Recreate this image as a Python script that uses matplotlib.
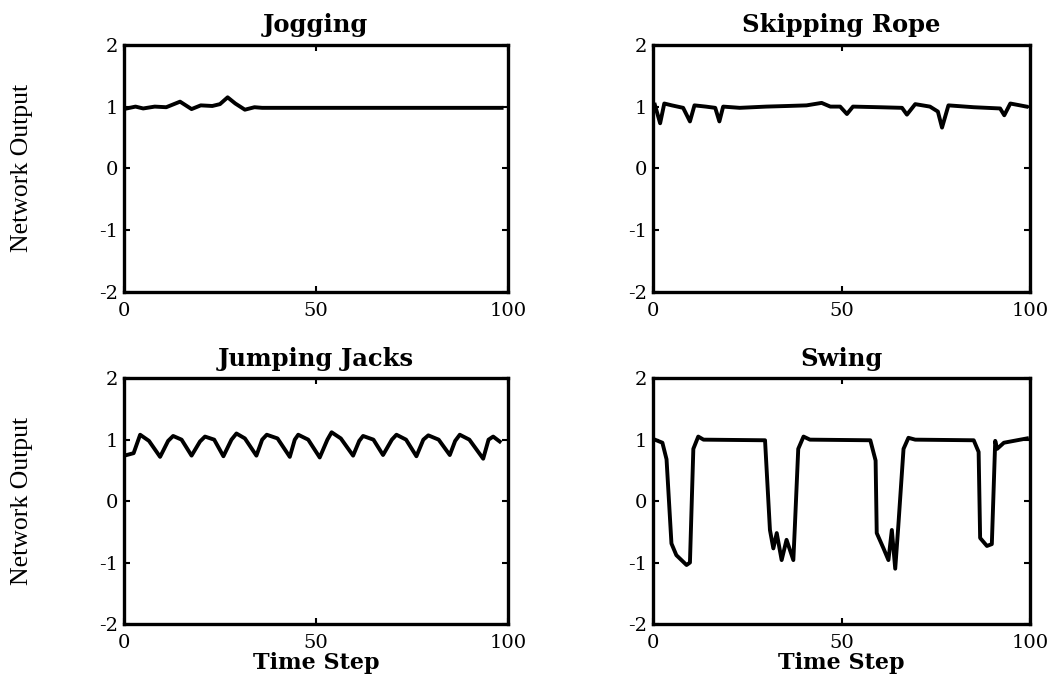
import numpy as np
import matplotlib.pyplot as plt

plt.rcParams['font.family'] = ['DejaVu Serif']
plt.rcParams['axes.unicode_minus'] = False

# Jogging
jog_x = [0.7, 3, 5, 8, 11, 14.6, 17.6, 20, 23, 25, 27, 29, 31.5, 34, 36, 98.4]
jog_y = [0.97, 1.0, 0.97, 1.0, 0.99, 1.08, 0.96, 1.02, 1.01, 1.04, 1.15, 1.05, 0.95, 0.99, 0.98, 0.98]

# Skipping Rope
skip_x = [0.5, 1.9, 3, 5, 8, 9.8, 11, 14, 16.5, 17.6, 18.6, 23, 30, 35.6, 40.7, 44.7, 47, 49.6,
          51.4, 53, 60, 66, 67.3, 69.5, 73.4, 75.5, 76.6, 78.3, 85, 92, 93.1, 94.7, 99]
skip_y = [1.03, 0.73, 1.05, 1.02, 0.98, 0.76, 1.02, 1.0, 0.98, 0.76, 1.0, 0.98, 1.0, 1.01, 1.02, 1.06, 1.0, 1.0,
          0.88, 1.0, 0.99, 0.98, 0.87, 1.04, 1.0, 0.92, 0.66, 1.02, 0.99, 0.97, 0.86, 1.05, 1.0]

# Jumping Jacks
jj_x = [0.7, 2.5, 4.2, 6.5, 9.4, 11.5, 12.8, 15, 17.6, 19.8, 21.1, 23.5, 25.9, 28, 29.3, 31.5, 34.5,
        36, 37.2, 40, 43.2, 44.5, 45.4, 48, 51, 53, 54.1, 56.5, 59.7, 61.3, 62.3, 65, 67.5,
        69.8, 71, 73.5, 76.2, 78, 79.3, 82, 84.9, 86.3, 87.5, 90, 93.6, 95, 96.2, 97.9]
jj_y = [0.75, 0.78, 1.08, 0.98, 0.72, 0.98, 1.06, 1.0, 0.74, 0.97, 1.05, 1.0, 0.73, 1.0, 1.1, 1.02, 0.74,
        1.0, 1.08, 1.02, 0.72, 1.0, 1.08, 1.0, 0.71, 1.0, 1.12, 1.02, 0.74, 0.98, 1.06, 1.0, 0.75,
        1.0, 1.08, 1.0, 0.73, 1.0, 1.07, 1.0, 0.75, 0.98, 1.08, 1.0, 0.69, 1.0, 1.05, 0.97]

# Swing
sw_x = [0.5, 2.5, 3.6, 4.9, 6.2, 8.9, 9.8, 10.7, 12.0, 13.4, 29.7, 31, 31.9, 32.8, 34.1, 35.4, 37.2,
        37.6, 38.5, 39.9, 41.6, 57.6, 59, 59.3, 61.1, 62.4, 63.3, 64.2, 65, 66.4, 67.7, 69.5,
        85, 86.3, 86.7, 88.5, 89.8, 90.7, 91.2, 93, 99.1]
sw_y = [1.0, 0.95, 0.68, -0.69, -0.88, -1.04, -1.0, 0.85, 1.05, 1.0, 0.99, -0.47, -0.77, -0.52, -0.96, -0.63, -0.96,
        -0.42, 0.85, 1.05, 1.0, 0.99, 0.66, -0.52, -0.77, -0.96, -0.47, -1.1, -0.42, 0.85, 1.03, 1.0,
        0.99, 0.8, -0.6, -0.73, -0.7, 0.98, 0.85, 0.95, 1.02]

titles = ['Jogging', 'Skipping Rope', 'Jumping Jacks', 'Swing']
series = [(jog_x, jog_y), (skip_x, skip_y), (jj_x, jj_y), (sw_x, sw_y)]
xticks = [0, 50, 100]
yticks = [-2, -1, 0, 1, 2]

fig = plt.figure(figsize=(10.6, 6.79), dpi=100)
boxes = [[0.117, 0.570, 0.362, 0.364], [0.616, 0.570, 0.356, 0.364],
         [0.117, 0.081, 0.362, 0.362], [0.616, 0.081, 0.356, 0.362]]

for i in range(4):
    ax = fig.add_axes(boxes[i])
    ax.plot(series[i][0], series[i][1], color='black', lw=2.8)
    ax.set_xlim(0, 100)
    ax.set_ylim(-2, 2)
    ax.set_xticks(xticks)
    ax.set_yticks(yticks)
    ax.tick_params(direction='in', length=4, width=1.5, labelsize=14,
                   top=True, right=True)
    ax.tick_params(axis='x', pad=7)
    ax.tick_params(axis='y', pad=4)
    for s in ax.spines.values():
        s.set_linewidth(2.4)
    ax.set_title(titles[i], fontsize=17.5, fontweight='bold', pad=9)
    if i % 2 == 0:
        ax.set_ylabel('Network Output', fontsize=18.5, family='Liberation Serif', labelpad=48)
    if i >= 2:
        ax.set_xlabel('Time Step', fontsize=16, fontweight='bold', labelpad=0)

plt.savefig('out.png')
